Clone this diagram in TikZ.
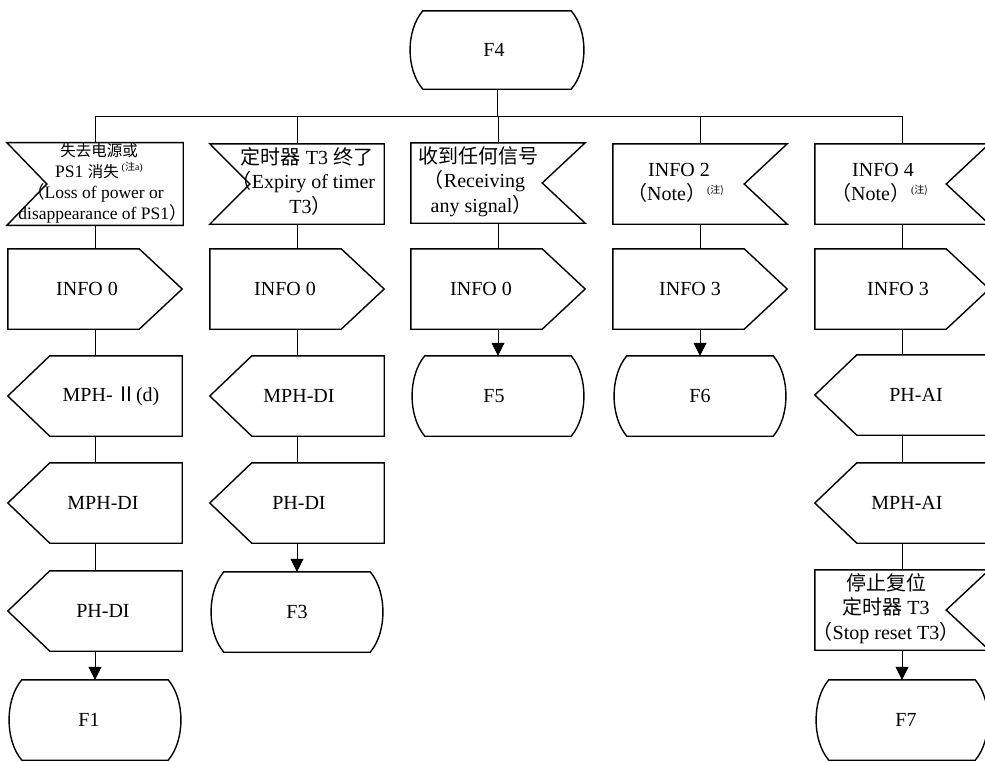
\documentclass[tikz,border=0pt]{standalone}
\usepackage{fontspec}
\setmainfont{Liberation Serif}
\newfontfamily\cjk{Noto Sans CJK SC}
\usetikzlibrary{arrows.meta}
\newcommand\tx[2]{\ifdim#1pt>0pt\hspace*{#1pt}\hspace*{#1pt}#2\else#2\hspace*{-#1pt}\hspace*{-#1pt}\fi}
\newcommand\lp{\kern-7pt{\cjk （}}
\newcommand\rp{{\cjk ）}\kern-7pt}
\newcommand\notemark[1]{\raisebox{7pt}{\fontsize{10}{10}\selectfont(#1)}}
\newcommand\shpInL[1]{\draw[shapeline] (#1.north west) -- (#1.north east) -- (#1.south east) -- (#1.south west) -- ([xshift=40pt]#1.west) -- cycle;}
\newcommand\shpInR[1]{\draw[shapeline] (#1.north west) -- (#1.north east) -- ([xshift=-43pt]#1.east) -- (#1.south east) -- (#1.south west) -- cycle;}
\newcommand\shpOut[1]{\draw[shapeline] (#1.north west) -- ([xshift=-43pt]#1.north east) -- (#1.east) -- ([xshift=-43pt]#1.south east) -- (#1.south west) -- cycle;}
\newcommand\shpRev[1]{\draw[shapeline] ([xshift=42pt]#1.north west) -- (#1.north east) -- (#1.south east) -- ([xshift=42pt]#1.south west) -- (#1.west) -- cycle;}
\newcommand\shpState[1]{\draw[shapeline] ([xshift=14pt]#1.north west) -- ([xshift=-14pt]#1.north east) .. controls +(17pt,-20pt) and +(17pt,20pt) .. ([xshift=-14pt]#1.south east) -- ([xshift=14pt]#1.south west) .. controls +(-17pt,20pt) and +(-17pt,-20pt) .. ([xshift=14pt]#1.north west) -- cycle;}
\tikzset{
  base/.style={inner sep=0pt, minimum width=174pt, minimum height=80pt, font=\fontsize{20}{23.5}\selectfont},
  shapeline/.style={line width=1.4pt, line join=miter},
  conn/.style={line width=0.8pt},
  arr/.style={conn, -{Triangle[length=13pt,width=13pt]}},
}
\begin{document}
\begin{tikzpicture}[x=1pt,y=1pt]
\useasboundingbox (0,0) rectangle (985,-761);
\clip (0,0) rectangle (985,-761);
% top state
\node[base, minimum width=176pt, minimum height=78pt] (F4) at (497,-50) {\tx{-3}{F4}};
% column 1
\node[base, minimum width=176pt, font=\fontsize{17.5}{19.5}\selectfont] (in1) at (95,-184) {\tx{4}{\begin{tabular}{@{}c@{}}{\cjk\fontsize{15.5}{19.5}\selectfont 失去电源或}\\ PS1 {\cjk\fontsize{15.5}{19.5}\selectfont 消失}\,\notemark{{\cjk 注}a}\\ \lp Loss of power or\\ disappearance of PS1\rp\end{tabular}}};
\node[base] (o1) at (95,-289) {\tx{-8}{INFO 0}};
\node[base] (r1a) at (95,-396) {\tx{16}{MPH-\,{\cjk Ⅱ}(d)}};
\node[base] (r1b) at (95,-503) {\tx{8}{MPH-DI}};
\node[base] (r1c) at (95,-611) {\tx{8}{PH-DI}};
\node[base] (F1) at (95,-720) {\tx{-6}{F1}};
% column 2
\node[base] (in2) at (297,-184) {\tx{10}{\begin{tabular}{@{}c@{}}{\cjk 定时器} T3 {\cjk 终了}\\ \lp Expiry of timer\\ T3\rp\end{tabular}}};
\node[base] (o2) at (297,-289) {\tx{-12}{INFO 0}};
\node[base] (r2a) at (297,-396) {\tx{2}{MPH-DI}};
\node[base] (r2b) at (297,-503) {\tx{2}{PH-DI}};
\node[base] (F3) at (297,-612) {F3};
% column 3
\node[base] (in3) at (498,-183) {\tx{-20}{\begin{tabular}{@{}c@{}}{\cjk 收到任何信号}\\ \lp Receiving\\ any signal\rp\end{tabular}}};
\node[base] (o3) at (498,-289) {\tx{-17}{INFO 0}};
\node[base] (F5) at (498,-396) {\tx{-4}{F5}};
% column 4
\node[base] (in4) at (700,-184) {\tx{-21}{\begin{tabular}{@{}c@{}}INFO 2\\ \lp Note\rp\hspace{8pt}\notemark{\cjk 注}\end{tabular}}};
\node[base] (o4) at (700,-289) {\tx{-10}{INFO 3}};
\node[base] (F6) at (700,-396) {F6};
% column 5
\node[base] (in5) at (902,-184) {\tx{-19}{\begin{tabular}{@{}c@{}}INFO 4\\ \lp Note\rp\hspace{8pt}\notemark{\cjk 注}\end{tabular}}};
\node[base] (o5) at (902,-289) {\tx{-4}{INFO 3}};
\node[base] (r5a) at (902,-395) {\tx{14}{PH-AI}};
\node[base] (r5b) at (902,-503) {\tx{5}{MPH-AI}};
\node[base] (st5) at (902,-610) {\tx{-16}{\begin{tabular}{@{}c@{}}{\cjk 停止复位}\\ {\cjk 定时器} T3\\ \lp Stop reset T3\rp\end{tabular}}};
\node[base] (F7) at (902,-720) {\tx{4}{F7}};
% outlines
\shpState{F4}
\shpInL{in1} \shpOut{o1} \shpRev{r1a} \shpRev{r1b} \shpRev{r1c} \shpState{F1}
\shpInL{in2} \shpOut{o2} \shpRev{r2a} \shpRev{r2b} \shpState{F3}
\shpInR{in3} \shpOut{o3} \shpState{F5}
\shpInR{in4} \shpOut{o4} \shpState{F6}
\shpInR{in5} \shpOut{o5} \shpRev{r5a} \shpRev{r5b} \shpInR{st5} \shpState{F7}
% connectors
\coordinate (bus) at (497,-116);
\draw[conn] (F4.south) -- (bus);
\foreach \n in {in1,in2,in3,in4,in5} \draw[conn] (bus) -| (\n.north);
\draw[conn] (in1) -- (o1) (o1) -- (r1a) (r1a) -- (r1b) (r1b) -- (r1c);
\draw[arr] (r1c.south) -- (F1.north);
\draw[conn] (in2) -- (o2) (o2) -- (r2a) (r2a) -- (r2b);
\draw[arr] (r2b.south) -- (F3.north);
\draw[conn] (in3) -- (o3);
\draw[arr] (o3.south) -- (F5.north);
\draw[conn] (in4) -- (o4);
\draw[arr] (o4.south) -- (F6.north);
\draw[conn] (in5) -- (o5) (o5) -- (r5a) (r5a) -- (r5b) (r5b) -- (st5);
\draw[arr] (st5.south) -- (F7.north);
\end{tikzpicture}
\end{document}
